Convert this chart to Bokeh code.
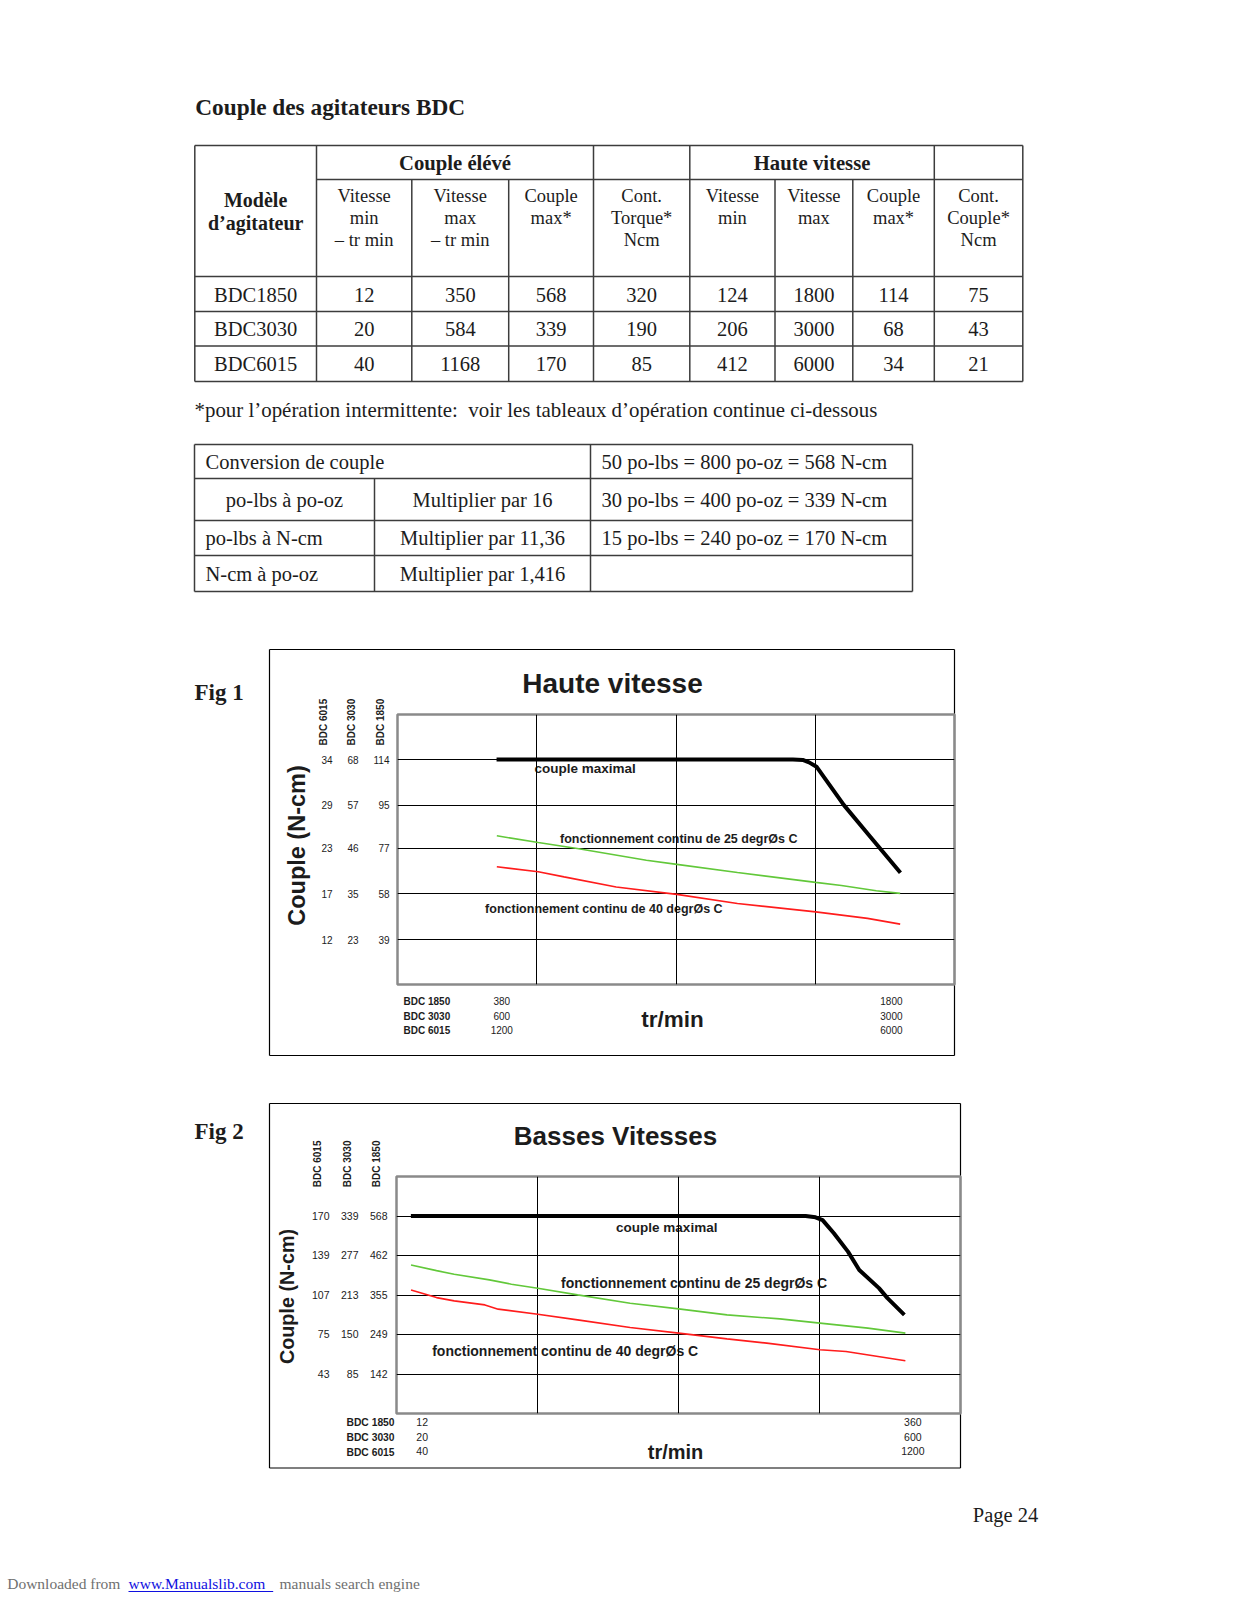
import math
from bokeh.plotting import figure
from bokeh.models import Range1d, FixedTicker, LinearAxis, GridBox
from bokeh.embed import file_html
from bokeh.resources import INLINE
from bokeh.core.properties import value

# ---------------------------------------------------------------- data
doc_title = "Couple des agitateurs BDC"
models = ["BDC1850", "BDC3030", "BDC6015"]
ce_speed_min = [12, 20, 40]
ce_speed_max = [350, 584, 1168]
ce_torque_max = [568, 339, 170]
ce_cont_torque = [320, 190, 85]
hv_speed_min = [124, 206, 412]
hv_speed_max = [1800, 3000, 6000]
hv_torque_max = [114, 68, 34]
hv_cont_torque = [75, 43, 21]
group_headers = ["Couple élévé", "Haute vitesse"]
model_header = ["Modèle", "d’agitateur"]
col_headers = [["Vitesse", "min", "– tr min"], ["Vitesse", "max", "– tr min"],
               ["Couple", "max*"], ["Cont.", "Torque*", "Ncm"],
               ["Vitesse", "min"], ["Vitesse", "max"], ["Couple", "max*"],
               ["Cont.", "Couple*", "Ncm"]]
footnote = "*pour l’opération intermittente:\u00a0 voir les tableaux d’opération continue ci-dessous"
conv_title = "Conversion de couple"
conv_names = ["po-lbs à po-oz", "po-lbs à N-cm", "N-cm à po-oz"]
conv_factors = ["Multiplier par 16", "Multiplier par 11,36", "Multiplier par 1,416"]
conv_examples = ["50 po-lbs = 800 po-oz = 568 N-cm", "30 po-lbs = 400 po-oz = 339 N-cm",
                 "15 po-lbs = 240 po-oz = 170 N-cm"]

# Fig 1 : Haute vitesse (x: tr/min BDC 1850, y: N-cm BDC 1850)
hv_title = "Haute vitesse"
hv_y_ticks = [39, 58, 77, 95, 114]
hv_y_3030 = ["23", "35", "46", "57", "68"]
hv_y_6015 = ["12", "17", "23", "29", "34"]
hv_x_ticks = [380, 1800]
hv_x_3030 = ["600", "3000"]
hv_x_6015 = ["1200", "6000"]
hv_max_x = [361, 1441, 1477, 1500, 1527, 1627, 1723, 1833]
hv_max_y = [114, 114, 113.8, 112.8, 111.0, 95.0, 81.8, 66.8]
hv_25_x = [362, 513, 655, 907, 1018, 1239, 1524, 1618, 1745, 1832]
hv_25_y = [82.2, 79.4, 76.9, 72.0, 70.3, 66.9, 62.8, 61.5, 59.3, 58.2]
hv_40_x = [362, 513, 607, 797, 1018, 1239, 1524, 1713, 1832]
hv_40_y = [69.3, 67.2, 65.1, 60.9, 57.8, 54.0, 50.5, 47.8, 45.4]

# Fig 2 : Basses Vitesses
bv_title = "Basses Vitesses"
bv_y_ticks = [142, 249, 355, 462, 568]
bv_y_3030 = ["85", "150", "213", "277", "339"]
bv_y_6015 = ["43", "75", "107", "139", "170"]
bv_x_ticks = [12, 360]
bv_x_3030 = ["20", "600"]
bv_x_6015 = ["40", "1200"]
bv_max_x = [4, 284, 291, 296, 304, 314, 322, 336, 342, 354]
bv_max_y = [568, 568, 564.5, 557, 521.5, 472, 422.5, 373.5, 346.5, 301.5]
bv_25_x = [4.1, 22.2, 34.7, 59.7, 75.3, 94.0, 122.2, 159.5, 193.9, 228.2, 265.7, 294.1, 328.1, 354.7]
bv_25_y = [436.1, 420.7, 411.0, 395.7, 384.1, 373.3, 355.3, 332.9, 317.6, 301.4, 290.6, 279.1, 265.6, 252.1]
bv_40_x = [4.1, 22.2, 34.7, 56.5, 65.9, 94.0, 122.2, 159.5, 193.9, 228.2, 256.4, 294.1, 312.6, 354.7]
bv_40_y = [368.7, 348.0, 339.1, 328.3, 316.8, 303.3, 288.0, 267.2, 252.1, 236.8, 225.2, 207.2, 202.6, 177.5]

lbl_max = "couple maximal"
lbl_25 = "fonctionnement continu de 25 degrØs C"
lbl_40 = "fonctionnement continu de 40 degrØs C"
model_names = ["BDC 1850", "BDC 3030", "BDC 6015"]
y_title = "Couple (N-cm)"
x_title = "tr/min"

# ---------------------------------------------------------------- style
W = 1230
H = 1596
X0 = 0
SERIF = "Liberation Serif"
SANS = "Liberation Sans"
INK = "#1c1c1c"
TLINE = "#3c3c3c"
GREEN = "#62c83a"
RED = "#ff1c1c"


def no_align(p):
    if "frame_align" in p.properties():
        p.frame_align = False


# page figure: coordinates are page pixels (y negated so the axis is not flipped)
pg = figure(width=W, height=H, x_range=Range1d(X0, X0 + W), y_range=Range1d(-(X0 + H), -X0),
            output_backend="svg", toolbar_location=None, min_border=0,
            x_axis_type=None, y_axis_type=None)
pg.outline_line_color = None
pg.background_fill_color = "white"
pg.border_fill_color = "white"
no_align(pg)


def ptext(xs, ys, ts, size, align="center", bold=False, font=SERIF,
          color=INK, baseline="middle", angle=0.0):
    pg.text(x=xs, y=[-v for v in ys], text=ts, text_font=value(font),
            text_font_size=value(f"{size}px"),
            text_font_style="bold" if bold else "normal",
            text_align=align, text_baseline=baseline, text_color=color, angle=angle)


def pseg(x0s, y0s, x1s, y1s, color=TLINE, width=1.5):
    pg.segment(x0s, [-v for v in y0s], x1s, [-v for v in y1s], line_color=color, line_width=width)


# ---------------------------------------------------------------- tables
ptext([194.8], [106.5], [doc_title], 23.3, align="left", bold=True, baseline="alphabetic")

t1_cols = [194.3, 316, 411.3, 508.2, 593, 689.3, 774.5, 852.3, 933.8, 1022.3]
t1_rows = [145, 179, 276, 311, 345.5, 381]
full_v = [0, 1, 4, 5, 8, 9]
x0s, y0s, x1s, y1s = [], [], [], []
for i, cx in enumerate(t1_cols):
    x0s.append(cx); x1s.append(cx)
    y0s.append(t1_rows[0] if i in full_v else t1_rows[1]); y1s.append(t1_rows[-1])
for j, ry in enumerate(t1_rows):
    x0s.append(t1_cols[1] if j == 1 else t1_cols[0]); x1s.append(t1_cols[-1])
    y0s.append(ry); y1s.append(ry)
pseg(x0s, y0s, x1s, y1s)

centers = [(t1_cols[i] + t1_cols[i + 1]) / 2 for i in range(len(t1_cols) - 1)]
ptext([(t1_cols[1] + t1_cols[4]) / 2, (t1_cols[5] + t1_cols[8]) / 2], [162.5, 162.5],
      group_headers, 20.7, bold=True)
ptext([centers[0], centers[0]], [199, 222.5], model_header, 20, bold=True)
line_y = [195.5, 217.3, 239]
hx, hy, ht = [], [], []
for k, lines in enumerate(col_headers):
    for li, s in enumerate(lines):
        hx.append(centers[k + 1]); hy.append(line_y[li]); ht.append(s)
ptext(hx, hy, ht, 18.5)

row_cols = [models, ce_speed_min, ce_speed_max, ce_torque_max, ce_cont_torque,
            hv_speed_min, hv_speed_max, hv_torque_max, hv_cont_torque]
dx, dy, dt = [], [], []
for r in range(3):
    yc = (t1_rows[r + 2] + t1_rows[r + 3]) / 2 + 0.5
    for c, colvals in enumerate(row_cols):
        dx.append(centers[c]); dy.append(yc); dt.append(str(colvals[r]))
ptext(dx, dy, dt, 20.5)

ptext([194], [409], [footnote], 20.9, align="left")

t2_cols = [194, 374, 590, 912]
t2_rows = [444, 478, 520, 555, 591]
x0s, y0s, x1s, y1s = [], [], [], []
for i, cx in enumerate(t2_cols):
    x0s.append(cx); x1s.append(cx)
    y0s.append(t2_rows[1] if i == 1 else t2_rows[0]); y1s.append(t2_rows[-1])
for ry in t2_rows:
    x0s.append(t2_cols[0]); x1s.append(t2_cols[-1]); y0s.append(ry); y1s.append(ry)
pseg(x0s, y0s, x1s, y1s)
rc = [(t2_rows[i] + t2_rows[i + 1]) / 2 for i in range(4)]
ptext([205], [rc[0]], [conv_title], 20.5, align="left")
ptext([601] * 3, rc[:3], conv_examples, 20.5, align="left")
ptext([(t2_cols[0] + t2_cols[1]) / 2], [rc[1]], [conv_names[0]], 20.5)
ptext([205, 205], rc[2:4], conv_names[1:], 20.5, align="left")
ptext([(t2_cols[1] + t2_cols[2]) / 2] * 3, rc[1:4], conv_factors, 20.5)

# ---------------------------------------------------------------- chart decorations (page px)
def decorate(box, fig_label, fig_label_y, title, title_xy, title_size, ylab_xy, ylab_size,
             bdc_xs, bdc_bottom, row_x, row_ys, row_size, xlab_xy, xlab_size, notes):
    l, r, t, b = box
    pseg([l, r, l, l], [t, t, b, t], [r, r, r, l], [t, b, b, b], color="black", width=1.2)
    ptext([194], [fig_label_y], [fig_label], 23, align="left", bold=True, font=SERIF)
    ptext([title_xy[0]], [title_xy[1]], [title], title_size, bold=True, font=SANS)
    ptext([ylab_xy[0]], [ylab_xy[1]], [y_title], ylab_size, bold=True, font=SANS,
          angle=math.pi / 2)
    ptext(bdc_xs, [bdc_bottom] * 3, model_names[::-1], 10, align="left", bold=True, font=SANS,
          angle=math.pi / 2)
    ptext([row_x] * 3, row_ys, model_names, row_size, align="left", bold=True, font=SANS)
    ptext([xlab_xy[0]], [xlab_xy[1]], [x_title], xlab_size, bold=True, font=SANS)
    for (nx, ny, txt, sz) in notes:
        ptext([nx], [ny], [txt], sz, align="left", bold=True, font=SANS)


decorate((269, 954, 649, 1055), "Fig 1", 692, hv_title, (612, 683), 28, (296, 845), 23.5,
         [323, 351, 380], 745, 403, [1000.7, 1016, 1030], 10, (672, 1019), 22.5,
         [(534, 768, lbl_max, 13.5), (559.5, 838.3, lbl_25, 12.5), (484.6, 908.5, lbl_40, 12.5)])
decorate((269, 960, 1103, 1467.5), "Fig 2", 1131, bv_title, (615, 1135), 26, (286, 1296), 19.8,
         [317.2, 347, 375.8], 1186.7, 346, [1422.3, 1437.3, 1451.7], 10.3, (675, 1451), 20,
         [(615.6, 1226.7, lbl_max, 13.5), (560.6, 1282.3, lbl_25, 14), (431.7, 1350, lbl_40, 14)])

# ---------------------------------------------------------------- footer
ptext([972.3], [1514], ["Page 24"], 20.5, align="left", baseline="alphabetic")
ptext([6.7], [1583.3], ["Downloaded from"], 15.5, align="left", color="#707070")
ptext([128], [1583.3], ["www.Manualslib.com"], 15.5, align="left", color="#1010e0")
pseg([128], [1591], [272.7], [1591], color="#1010e0", width=1)
ptext([279], [1583.3], ["manuals search engine"], 15.5, align="left", color="#707070")


# ---------------------------------------------------------------- charts
def style_axis(ax, ticks, labels, size, standoff, align=None):
    ax.ticker = FixedTicker(ticks=ticks)
    ax.major_label_overrides = {t: l for t, l in zip(ticks, labels)}
    ax.major_label_text_font = SANS
    ax.major_label_text_font_size = f"{size}px"
    ax.major_label_text_color = INK
    ax.major_label_standoff = standoff
    ax.major_tick_line_color = None
    ax.minor_tick_line_color = None
    ax.major_tick_out = 0
    ax.major_tick_in = 0
    ax.minor_tick_out = 0
    ax.minor_tick_in = 0
    ax.axis_line_color = None
    if align:
        ax.major_label_text_align = align


def chart(frame, xr, yr, y_ticks, y_lab3030, y_lab6015, x_ticks, x_lab3030, x_lab6015,
          ystand, xstand, ysize, xsize, xalign, x_grid):
    L, R, T, B = frame
    p = figure(width=W, height=H, x_range=Range1d(*xr), y_range=Range1d(*yr),
               output_backend="svg", toolbar_location=None,
               min_border_left=L - X0, min_border_right=X0 + W - R,
               min_border_top=T - X0, min_border_bottom=X0 + H - B)
    no_align(p)
    p.background_fill_color = None
    p.border_fill_color = None
    p.outline_line_color = "#8a8a8a"
    p.outline_line_width = 2.5
    style_axis(p.yaxis[0], y_ticks, [str(t) for t in y_ticks], ysize, ystand[0])
    for labs, st in ((y_lab3030, ystand[1]), (y_lab6015, ystand[2])):
        ax = LinearAxis()
        style_axis(ax, y_ticks, labs, ysize, st)
        p.add_layout(ax, "left")
    style_axis(p.xaxis[0], x_ticks, [str(t) for t in x_ticks], xsize, xstand[0], xalign)
    for labs, st in ((x_lab3030, xstand[1]), (x_lab6015, xstand[2])):
        ax = LinearAxis()
        style_axis(ax, x_ticks, labs, xsize, st, xalign)
        p.add_layout(ax, "below")
    p.xgrid.ticker = FixedTicker(ticks=x_grid)
    p.ygrid.ticker = FixedTicker(ticks=y_ticks)
    for g in (p.xgrid, p.ygrid):
        g.grid_line_color = "black"
        g.grid_line_width = 1
        g.grid_line_alpha = 1
    return p


f1 = chart((397, 954, 714, 984), (0, 2030), (20.25, 132.75),
           hv_y_ticks, hv_y_3030, hv_y_6015, hv_x_ticks, hv_x_3030, hv_x_6015,
           (8, 12, 12), (12, 4, 3), 10, 10, "center", [507.5, 1015, 1522.5])
f1.line(hv_25_x, hv_25_y, line_color=GREEN, line_width=1.6)
f1.line(hv_40_x, hv_40_y, line_color=RED, line_width=1.6)
f1.line(hv_max_x, hv_max_y, line_color="black", line_width=4, line_join="round")

f2 = chart((396, 960, 1176, 1413), (-6.2, 393.8), (35.5, 674.5),
           bv_y_ticks, bv_y_3030, bv_y_6015, bv_x_ticks, bv_x_3030, bv_x_6015,
           (9, 8, 8), (4, 4, 3), 10.5, 10.5, "center", [93.8, 193.8, 293.8])
f2.line(bv_25_x, bv_25_y, line_color=GREEN, line_width=1.6)
f2.line(bv_40_x, bv_40_y, line_color=RED, line_width=1.6)
f2.line(bv_max_x, bv_max_y, line_color="black", line_width=4, line_join="round")

page = GridBox(children=[(pg, 0, 0), (f1, 0, 0), (f2, 0, 0)])
open("out.html", "w").write(file_html(page, INLINE))
